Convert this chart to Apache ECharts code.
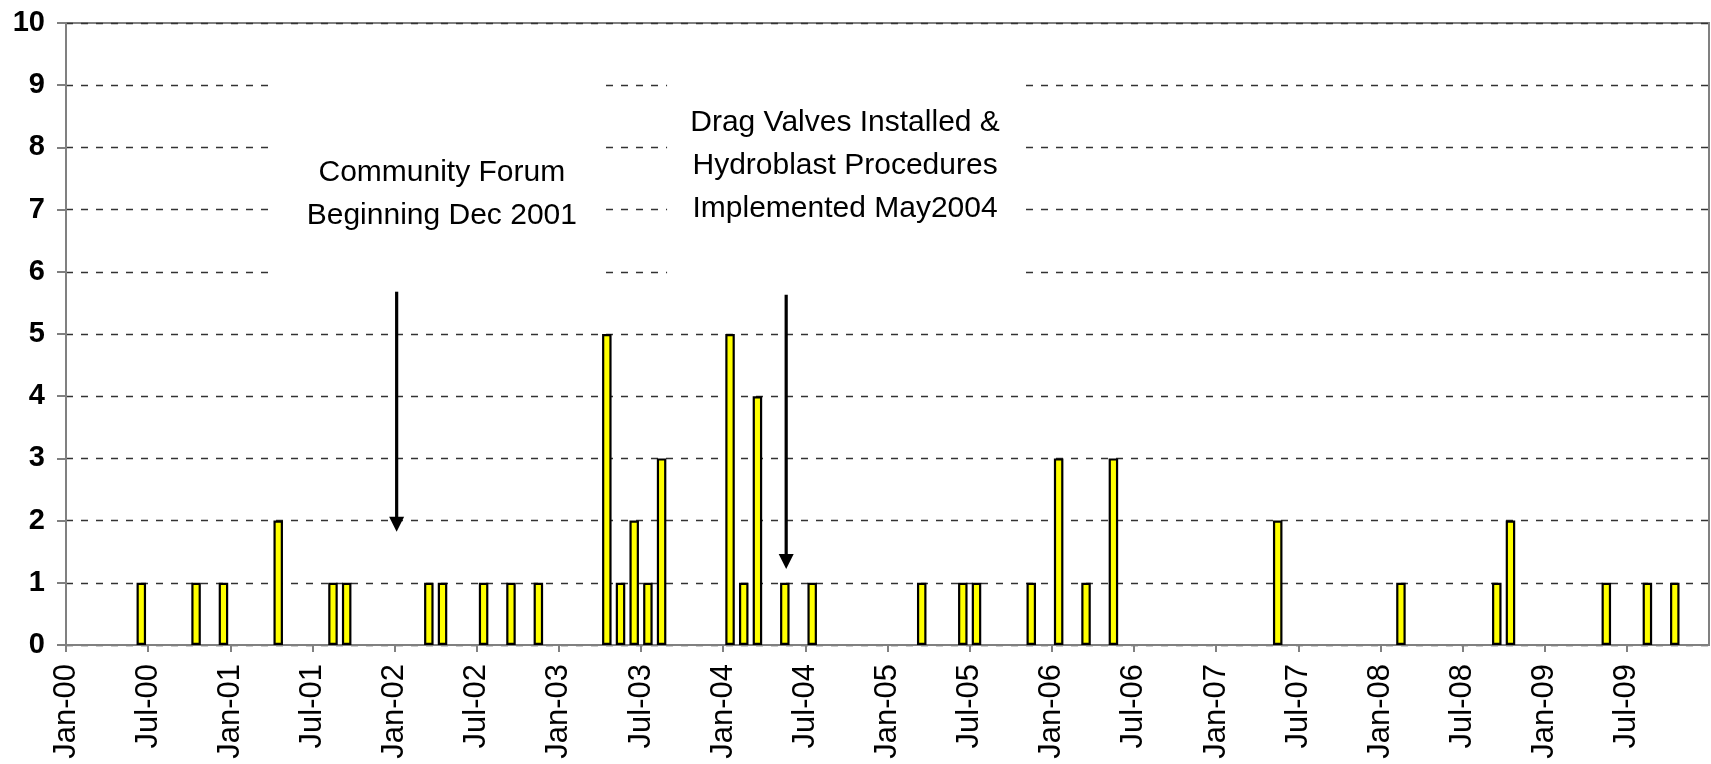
<!DOCTYPE html>
<html>
<head>
<meta charset="utf-8">
<title>Monthly events 2000-2009</title>
<script src="https://cdn.jsdelivr.net/npm/echarts@6/dist/echarts.min.js"></script>
<style>
  html, body { margin: 0; padding: 0; background: #fff; }
  #chart { width: 1711px; height: 764px; }
</style>
</head>
<body>
<div id="chart"></div>
<script>
// axis labels, one every 6 months starting Jan-00
const tickLabels = [
  'Jan-00', 'Jul-00', 'Jan-01', 'Jul-01', 'Jan-02', 'Jul-02', 'Jan-03', 'Jul-03',
  'Jan-04', 'Jul-04', 'Jan-05', 'Jul-05', 'Jan-06', 'Jul-06', 'Jan-07', 'Jul-07',
  'Jan-08', 'Jul-08', 'Jan-09', 'Jul-09'
];

// monthly counts, Jan..Dec for each year
const y2000 = [0, 0, 0, 0, 0, 1, 0, 0, 0, 1, 0, 1];
const y2001 = [0, 0, 0, 2, 0, 0, 0, 1, 1, 0, 0, 0];
const y2002 = [0, 0, 1, 1, 0, 0, 1, 0, 1, 0, 1, 0];
const y2003 = [0, 0, 0, 5, 1, 2, 1, 3, 0, 0, 0, 0];
const y2004 = [5, 1, 4, 0, 1, 0, 1, 0, 0, 0, 0, 0];
const y2005 = [0, 0, 1, 0, 0, 1, 1, 0, 0, 0, 1, 0];
const y2006 = [3, 0, 1, 0, 3, 0, 0, 0, 0, 0, 0, 0];
const y2007 = [0, 0, 0, 0, 2, 0, 0, 0, 0, 0, 0, 0];
const y2008 = [0, 1, 0, 0, 0, 0, 0, 0, 1, 2, 0, 0];
const y2009 = [0, 0, 0, 0, 1, 0, 0, 1, 0, 1, 0, 0];

const forumText = 'Community Forum\nBeginning Dec 2001';
const valveText = 'Drag Valves Installed &\nHydroblast Procedures\nImplemented May2004';

const counts = [].concat(y2000, y2001, y2002, y2003, y2004, y2005, y2006, y2007, y2008, y2009);
// each bar sits in the middle of its month
const barData = counts.map((v, i) => [i + 0.5, v]).filter(d => d[1] > 0);

const FONT = '"Liberation Sans", Arial, sans-serif';
const chart = echarts.init(document.getElementById('chart'));

chart.setOption({
  animation: false,
  grid: {
    left: 66, right: 2, top: 23, bottom: 119,
    show: true, borderColor: '#808080', borderWidth: 2
  },
  xAxis: {
    type: 'value',
    min: 0, max: 120, interval: 6,
    axisLine: { show: true, lineStyle: { color: '#808080', width: 2 } },
    axisTick: { show: true, length: 7, lineStyle: { color: '#808080', width: 2 } },
    splitLine: { show: false },
    axisLabel: {
      rotate: 90, margin: 19,
      fontFamily: FONT, fontSize: 31, color: '#000',
      showMaxLabel: false,
      formatter: v => tickLabels[v / 6] || ''
    }
  },
  yAxis: {
    type: 'value',
    min: 0, max: 10, interval: 1,
    axisLine: { show: true, lineStyle: { color: '#808080', width: 2 } },
    axisTick: { show: true, length: 9, lineStyle: { color: '#808080', width: 2 } },
    splitLine: { show: true, lineStyle: { color: '#333', width: 1.4, type: [7, 8] } },
    axisLabel: { margin: 21, fontFamily: FONT, fontSize: 29, fontWeight: 'bold', color: '#000' }
  },
  series: [{
    type: 'bar',
    data: barData,
    barWidth: 9.5,
    itemStyle: { color: '#ffff00', borderColor: '#000', borderWidth: 2.2 }
  }]
});

// annotations placed in data coordinates
const px = (x, y) => chart.convertToPixel({ gridIndex: 0 }, [x, y]);

function box(x0, x1, yTop, yBottom) {
  const a = px(x0, yTop), b = px(x1, yBottom);
  return { type: 'rect', z: 50, shape: { x: a[0], y: a[1], width: b[0] - a[0], height: b[1] - a[1] },
    style: { fill: '#fff' } };
}
function label(text, x, y) {
  const p = px(x, y);
  return { type: 'text', z: 60, style: {
    text: text, x: p[0], y: p[1], font: '30px ' + FONT, fill: '#000',
    textAlign: 'center', textVerticalAlign: 'middle', lineHeight: 43
  } };
}
function arrow(x, yFrom, yTo) {
  const a = px(x, yFrom), t = px(x, yTo);
  const head = 15;
  return [
    { type: 'line', z: 60, shape: { x1: a[0], y1: a[1], x2: t[0], y2: t[1] - head + 1 },
      style: { stroke: '#000', lineWidth: 3.2 } },
    { type: 'polygon', z: 60, shape: { points: [[t[0] - 7.5, t[1] - head], [t[0] + 7.5, t[1] - head], [t[0], t[1]]] },
      style: { fill: '#000' } }
  ];
}

chart.setOption({
  graphic: [
    box(15.2, 39.3, 9.55, 5.8),
    box(43.9, 69.9, 9.55, 5.8),
    label(forumText, 27.45, 7.25),
    label(valveText, 56.9, 7.7)
  ].concat(arrow(24.15, 5.68, 1.82), arrow(52.6, 5.63, 1.22))
});
</script>
</body>
</html>
